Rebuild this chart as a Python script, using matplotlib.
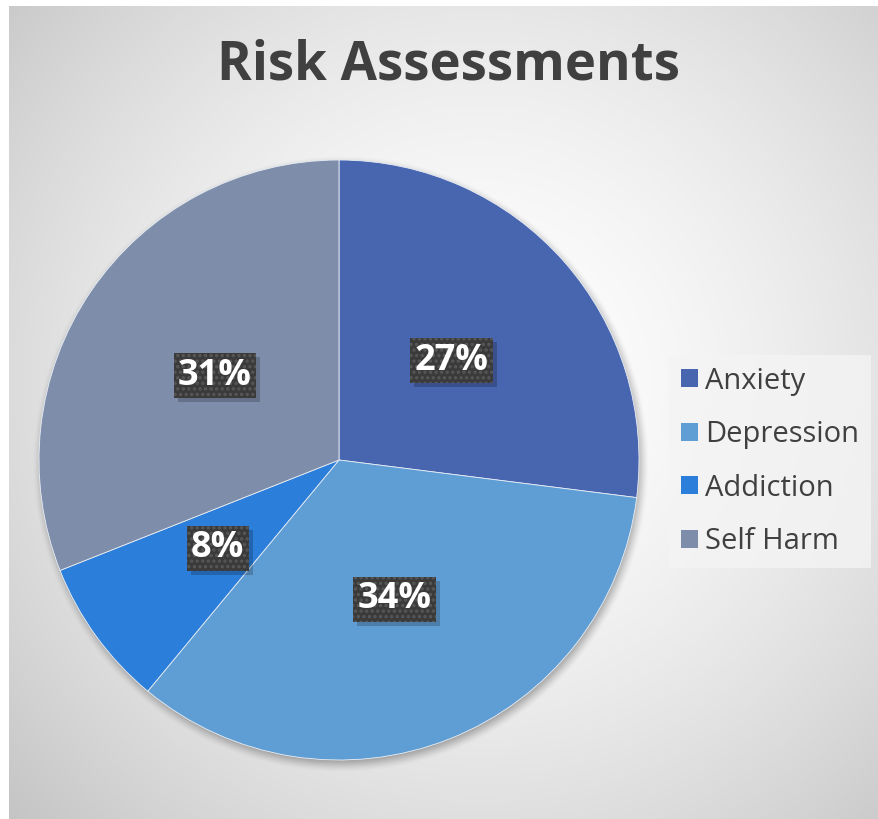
import numpy as np
import matplotlib.pyplot as plt
from matplotlib.patches import Rectangle

categories = ['Anxiety', 'Depression', 'Addiction', 'Self Harm']
shares = [27, 34, 8, 31]
colors = ['#4865B0', '#5F9ED4', '#2B7ED9', '#7E8EAA']

W, H = 879, 819
FONT = 'Open Sans'
fig = plt.figure(figsize=(W / 100, H / 100), dpi=100)
fig.patch.set_facecolor('white')
ax = fig.add_axes([0, 0, 1, 1])

# radial grey background of the chart area
x0, y0 = 9, 6
xs = np.arange(x0, W) + 0.5
ys = np.arange(y0, H) + 0.5
gx, gy = np.meshgrid(xs, ys)
d = np.hypot(gx - 480, gy - 380)
d = d / d.max()
shade = 1.0 - 0.23 * d ** 1.6
bg = np.dstack([shade] * 3)
ax.imshow(bg, extent=(x0, W, 0, H - y0), origin='upper', zorder=0,
          interpolation='bilinear')

# soft shadow under the pie
cx, cy, r = 339, 460, 300
sd = np.hypot(gx - (cx + 2), gy - (cy + 4))
blur = 9
sa = np.clip((r + blur - sd) / (2 * blur), 0, 1)
sa = sa * sa * (3 - 2 * sa) * 0.35
shadow = np.zeros((len(ys), len(xs), 4))
shadow[..., 3] = sa
ax.imshow(shadow, extent=(x0, W, 0, H - y0), origin='upper', zorder=1,
          interpolation='bilinear')

wedges, texts, autotexts = ax.pie(
    shares, colors=colors, startangle=90, counterclock=False,
    center=(cx, H - cy), radius=r, autopct='%1.0f%%', pctdistance=0.5,
    wedgeprops=dict(edgecolor='#e8eef6', linewidth=0.6),
    textprops=dict(color='white', fontsize=26, fontweight='bold',
                   family=FONT))
for w in wedges:
    w.set_zorder(2)

plt.rcParams['hatch.linewidth'] = 1.6
for t in autotexts:
    t.set_zorder(5)
    t.set_bbox(dict(boxstyle='square,pad=0.12', facecolor='#3a3a3a',
                    edgecolor='#585858', linewidth=0, hatch='...'))

ax.set_xlim(0, W)
ax.set_ylim(0, H)
ax.set_aspect('auto')
ax.axis('off')

ax.text(449, H - 66, 'Risk Assessments', ha='center', va='center',
        fontsize=38, fontweight='bold', color='#404040', family=FONT)

leg = ax.legend(wedges, categories, loc='upper left',
                bbox_to_anchor=(669, H - 355), bbox_transform=ax.transData,
                prop=dict(family=FONT, size=21), frameon=True, fancybox=False,
                handlelength=0.58, handleheight=0.58, handletextpad=0.25,
                labelspacing=0.84, borderpad=0.4, borderaxespad=0)
leg.get_frame().set_facecolor('#f4f4f4')
leg.get_frame().set_edgecolor('none')
leg.get_frame().set_alpha(0.8)
for txt in leg.get_texts():
    txt.set_color('#404040')
for h in leg.legend_handles:
    h.set_edgecolor('none')

# drop shadows behind the value boxes
fig.canvas.draw()
inv = ax.transData.inverted()
for t in autotexts:
    ext = t.get_bbox_patch().get_window_extent()
    (bx0, by0), (bx1, by1) = inv.transform([[ext.x0, ext.y0], [ext.x1, ext.y1]])
    ax.add_patch(Rectangle((bx0 + 4, by0 - 4), bx1 - bx0, by1 - by0,
                           facecolor='black', alpha=0.2, linewidth=0,
                           zorder=4))

fig.savefig('out.png', dpi=100)
